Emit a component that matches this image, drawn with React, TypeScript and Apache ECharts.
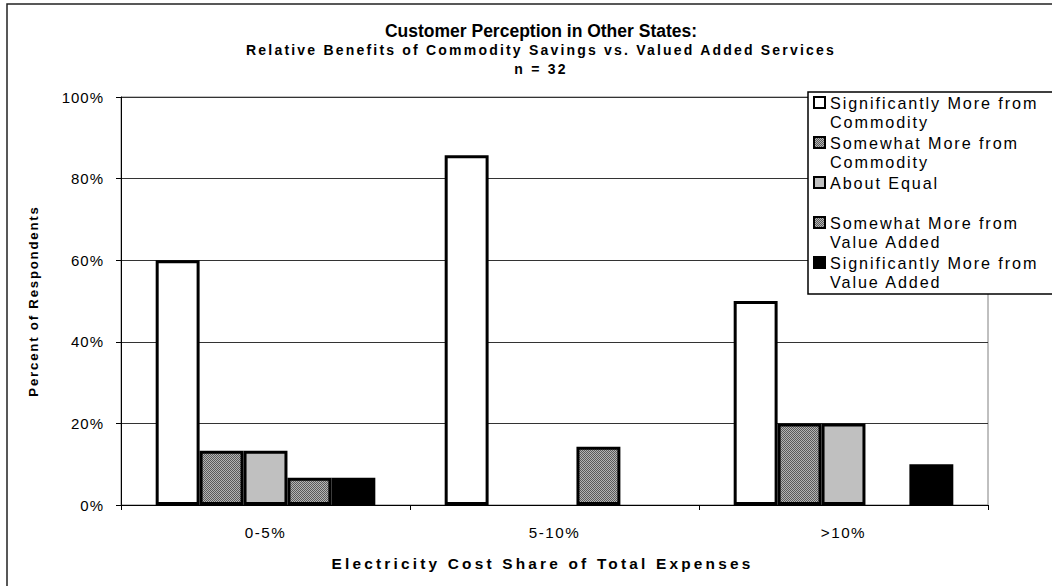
import React, { useEffect, useRef } from 'react';
import * as echarts from 'echarts';

// Response shares (%) by electricity cost share
const categories = ['0-5%', '5-10%', '>10%'];
const seriesNames = [
  'Significantly More from Commodity',
  'Somewhat More from Commodity',
  'About Equal',
  'Somewhat More from Value Added',
  'Significantly More from Value Added',
];
const legendLabels = [
  'Significantly More from\nCommodity',
  'Somewhat More from\nCommodity',
  'About Equal\n ',
  'Somewhat More from\nValue Added',
  'Significantly More from\nValue Added',
];
const sigCommodity = [60, 85.7, 50];
const someCommodity = [13.3, 0, 20];
const aboutEqual = [13.3, 0, 20];
const someValueAdded = [6.7, 14.3, 0];
const sigValueAdded = [6.7, 0, 10];

const FONT = "'Liberation Sans', Arial, sans-serif";

// Font sizes per text role; the wide tracking of each role is set in CSS below.
const SIZE_TITLE = 17.5;
const SIZE_SUB = 14;
const SIZE_LEGEND = 16.2;
const SIZE_YLABEL = 15;
const SIZE_XLABEL = 15.2;
const SIZE_XNAME = 15.4;
const SIZE_YNAME = 13.2;

const trackingCss = `
.cost-chart text[style*="${SIZE_SUB}px"] { letter-spacing: 2.2px; }
.cost-chart text[style*="${SIZE_LEGEND}px"] { letter-spacing: 1.9px; }
.cost-chart text[style*="${SIZE_YLABEL}px"] { letter-spacing: 1px; }
.cost-chart text[style*="${SIZE_XLABEL}px"] { letter-spacing: 1.5px; }
.cost-chart text[style*="${SIZE_XNAME}px"] { letter-spacing: 3.2px; }
.cost-chart text[style*="${SIZE_YNAME}px"] { letter-spacing: 1.8px; }
`;

function makeDither(): HTMLCanvasElement {
  const c = document.createElement('canvas');
  c.width = 4;
  c.height = 4;
  const ctx = c.getContext('2d')!;
  for (let y = 0; y < 4; y++) {
    for (let x = 0; x < 4; x++) {
      ctx.fillStyle = (x + y) % 2 === 0 ? '#5a5a5a' : '#b4b4b4';
      ctx.fillRect(x, y, 1, 1);
    }
  }
  return c;
}

export default function App() {
  const ref = useRef<HTMLDivElement>(null);

  useEffect(() => {
    if (!ref.current) return;
    const chart = echarts.init(ref.current, undefined, { renderer: 'svg' });
    const dither = { image: makeDither(), repeat: 'repeat', imageWidth: 4, imageHeight: 4 };
    const fills: any[] = ['#ffffff', dither, '#c0c0c0', dither, '#000000'];
    const values = [sigCommodity, someCommodity, aboutEqual, someValueAdded, sigValueAdded];

    chart.setOption({
      animation: false,
      backgroundColor: '#ffffff',
      textStyle: { fontFamily: FONT },
      title: {
        text: 'Customer Perception in Other States:',
        subtext: 'Relative Benefits of Commodity Savings vs. Valued Added Services\nn = 32',
        left: 541,
        top: 21,
        textAlign: 'center',
        padding: 0,
        itemGap: 0,
        textStyle: { fontFamily: FONT, fontSize: SIZE_TITLE, fontWeight: 'bold', color: '#000', lineHeight: 19 },
        subtextStyle: { fontFamily: FONT, fontSize: SIZE_SUB, fontWeight: 'bold', color: '#000', lineHeight: 19 },
      },
      legend: {
        orient: 'vertical',
        left: 813,
        top: 74,
        padding: 0,
        itemGap: -17,
        itemWidth: 11,
        itemHeight: 11,
        icon: 'rect',
        selectedMode: false,
        z: 6,
        data: seriesNames,
        itemStyle: { borderColor: '#000', borderWidth: 2 },
        // a leading blank line keeps the icon level with the first text line
        formatter: (name: string) => '\n' + legendLabels[seriesNames.indexOf(name)],
        textStyle: { fontFamily: FONT, fontSize: SIZE_LEGEND, color: '#000', lineHeight: 19 },
      },
      grid: {
        left: 121,
        right: 64,
        top: 97,
        bottom: 81,
        show: true,
        borderColor: '#808080',
        borderWidth: 1,
      },
      xAxis: {
        type: 'category',
        data: categories,
        name: 'Electricity Cost Share of Total Expenses',
        nameLocation: 'middle',
        nameGap: 51,
        nameTextStyle: {
          fontFamily: FONT,
          fontSize: SIZE_XNAME,
          fontWeight: 'bold',
          color: '#000',
          padding: [0, 24, 0, 0],
        },
        axisLine: { lineStyle: { color: '#000', width: 1 } },
        axisTick: { show: true, length: 5, lineStyle: { color: '#000' } },
        axisLabel: { fontFamily: FONT, fontSize: SIZE_XLABEL, color: '#000', margin: 20 },
      },
      yAxis: {
        type: 'value',
        min: 0,
        max: 100,
        interval: 20,
        name: 'Percent of Respondents',
        nameLocation: 'middle',
        nameGap: 81,
        nameTextStyle: { fontFamily: FONT, fontSize: SIZE_YNAME, fontWeight: 'bold', color: '#000' },
        axisLine: { show: true, lineStyle: { color: '#000', width: 1 } },
        axisTick: { show: true, length: 5, lineStyle: { color: '#000' } },
        axisLabel: { fontFamily: FONT, fontSize: SIZE_YLABEL, color: '#000', margin: 17, formatter: '{value}%' },
        splitLine: { show: true, lineStyle: { color: '#333', width: 1 } },
      },
      graphic: [
        {
          type: 'rect',
          z: 5,
          silent: true,
          shape: { x: 808, y: 92, width: 300, height: 202 },
          style: { fill: '#ffffff', stroke: '#000', lineWidth: 1.5 },
        },
        {
          type: 'rect',
          z: 10,
          silent: true,
          shape: { x: 7, y: 4, width: 1200, height: 700 },
          style: { fill: 'none', stroke: '#222', lineWidth: 1.5 },
        },
      ],
      series: seriesNames.map((name, i) => ({
        name,
        type: 'bar',
        // zero shares draw no bar at all
        data: values[i].map((v) => (v === 0 ? '-' : v)),
        barGap: '0%',
        barCategoryGap: '24%',
        itemStyle: { color: fills[i], borderColor: '#000', borderWidth: 3 },
        emphasis: { disabled: true },
      })),
    });

    return () => chart.dispose();
  }, []);

  return (
    <>
      <style>{trackingCss}</style>
      <div
        ref={ref}
        className="cost-chart"
        style={{ position: 'absolute', left: 0, top: 0, width: 1052, height: 586 }}
      />
    </>
  );
}
